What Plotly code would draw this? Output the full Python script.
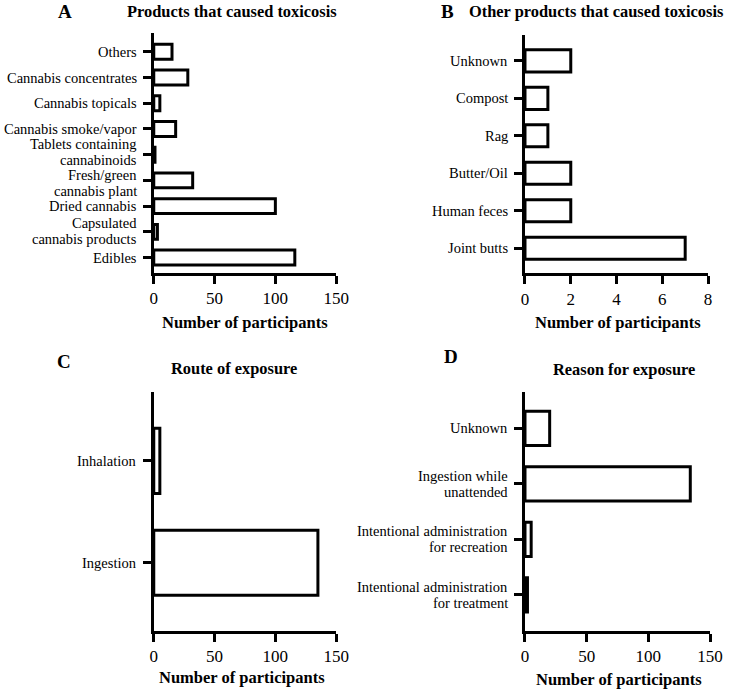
import plotly.graph_objects as go

W, H = 737, 691

# ---------------- data ----------------
a_categories = ["Edibles", "Capsulated<br>cannabis products", "Dried cannabis",
                "Fresh/green<br>cannabis plant", "Tablets containing<br>cannabinoids",
                "Cannabis smoke/vapor", "Cannabis topicals", "Cannabis concentrates", "Others"]
a_values = [116, 3, 100, 32, 1, 18, 5, 28, 15]

b_categories = ["Joint butts", "Human feces", "Butter/Oil", "Rag", "Compost", "Unknown"]
b_values = [7, 2, 2, 1, 1, 2]

c_categories = ["Ingestion", "Inhalation"]
c_values = [135, 5]

d_categories = ["Intentional administration<br>for treatment",
                "Intentional administration<br>for recreation",
                "Ingestion while<br>unattended", "Unknown"]
d_values = [2, 5, 134, 20]

ticks_150 = [0, 50, 100, 150]
ticks_8 = [0, 2, 4, 6, 8]

# ---------------- styling / layout ----------------
FONT = "Liberation Serif"
CAT_SIZE = 14.5
LINE_STEP = 16
# small vertical nudges (px, positive = down) of cramped two-line labels in panel A
label_nudge = {"Tablets containing<br>cannabinoids": -3,
               "Fresh/green<br>cannabis plant": 3,
               "Capsulated<br>cannabis products": -1}


def px_x(v):
    return v / W


def px_y(v):
    return 1 - v / H


fig = go.Figure()

panels = [
    # cats, vals, xrange, ticks, x0px, x1px, ytop, ybot, yrange, barwidth
    (a_categories, a_values, [0, 150], ticks_150, 153.3, 340.0, 33.3, 273.0, [-0.6, 8.72], 0.58),
    (b_categories, b_values, [0, 8], ticks_8, 533.3, 720.7, 35.0, 273.3, [-0.67, 5.69], 0.59),
    (c_categories, c_values, [0, 150], ticks_150, 153.3, 340.0, 391.7, 631.0, [-0.67, 1.68], 0.64),
    (d_categories, d_values, [0, 150], ticks_150, 533.3, 722.7, 391.7, 631.0, [-0.65, 3.66], 0.62),
]

for i, (cats, vals, xr, tv, x0, x1, yt, yb, yr, bw) in enumerate(panels, start=1):
    suffix = "" if i == 1 else str(i)
    fig.add_trace(go.Bar(
        x=vals, y=cats, orientation="h", width=bw,
        marker=dict(color="white", line=dict(color="black", width=3)),
        xaxis="x" + suffix, yaxis="y" + suffix, showlegend=False,
        hoverinfo="x+y",
    ))
    axis_common = dict(showline=True, linewidth=3, linecolor="black",
                       ticks="outside", ticklen=8, tickwidth=3, tickcolor="black",
                       showgrid=False, zeroline=False)
    fig.layout["xaxis" + suffix] = dict(
        domain=[px_x(x0), px_x(x1)], range=xr, tickvals=tv,
        anchor="y" + suffix, tickfont=dict(family=FONT, size=17, color="black"),
        **axis_common)
    fig.layout["yaxis" + suffix] = dict(
        domain=[px_y(yb), px_y(yt)], range=yr, type="category",
        categoryorder="array", categoryarray=cats, showticklabels=False,
        anchor="x" + suffix, **axis_common)
    # category labels (drawn as text so multi-line spacing can match)
    for k, cat in enumerate(cats):
        lines = cat.split("<br>")
        n = len(lines)
        nudge = label_nudge.get(cat, 0)
        for j, line in enumerate(lines):
            shift = ((n - 1) / 2 - j) * LINE_STEP - nudge
            fig.add_annotation(text=line, x=px_x(x0 - 15), y=k, yshift=shift,
                               xref="paper", yref="y" + suffix,
                               xanchor="right", yanchor="middle", showarrow=False,
                               font=dict(family=FONT, size=CAT_SIZE, color="black"))

annotations = [
    # text, x px, y px, size
    ("A", 62.5, 12, 19),
    ("Products that caused toxicosis", 233.3, 12, 16.4),
    ("B", 453.6, 12, 19),
    ("Other products that caused toxicosis", 605.8, 12, 16.4),
    ("C", 61.7, 361, 19),
    ("Route of exposure", 235.8, 368, 16.4),
    ("D", 458, 356, 19),
    ("Reason for exposure", 635, 369, 16.4),
    ("Number of participants", 246.7, 322, 16.5),
    ("Number of participants", 629, 322, 16.5),
    ("Number of participants", 244, 677, 16.5),
    ("Number of participants", 630, 679, 16.5),
]
for text, x, y, size in annotations:
    fig.add_annotation(text="<b>%s</b>" % text, x=px_x(x), y=px_y(y),
                       xref="paper", yref="paper", xanchor="center", yanchor="middle",
                       showarrow=False, font=dict(family=FONT, size=size, color="black"))

fig.update_layout(
    width=W, height=H, margin=dict(l=0, r=0, t=0, b=0),
    paper_bgcolor="white", plot_bgcolor="white",
    font=dict(family=FONT, color="black"),
)

# remove the browser's default page margin and scrollbars so the figure fills the window
fig.write_html(
    "out.html", config={"displayModeBar": False},
    post_script=("document.body.style.margin='0';"
                 "document.body.style.overflow='hidden';"
                 "document.documentElement.style.overflow='hidden';"))
